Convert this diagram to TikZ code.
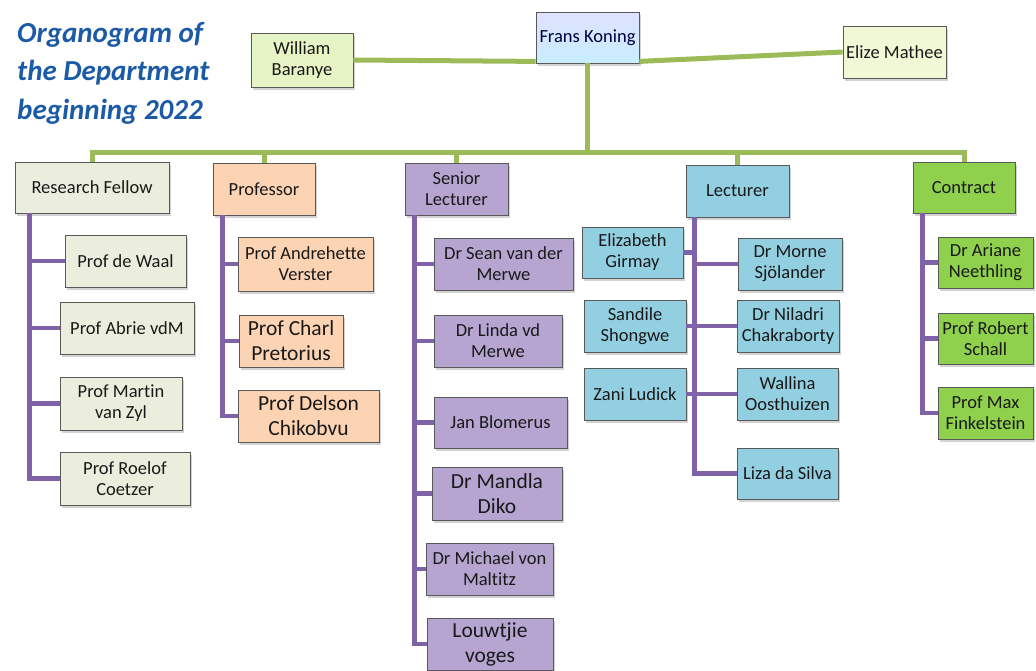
\documentclass[tikz,border=0pt]{standalone}
\usepackage{fontspec}
\setmainfont[Ligatures={NoCommon}]{Carlito}
\usepackage{tikz}
\usetikzlibrary{shadows}
\usepackage{xcolor}
\definecolor{titleblue}{HTML}{1A5AA6}
\definecolor{linegreen}{HTML}{9BBB59}
\definecolor{linepurple}{HTML}{7F62A8}
\definecolor{rfcol}{HTML}{EBEEDD}
\definecolor{prcol}{HTML}{FCD3B3}
\definecolor{slcol}{HTML}{B5A5D0}
\definecolor{lccol}{HTML}{92CFE0}
\definecolor{ctcol}{HTML}{8FD04C}
\definecolor{wbcol}{HTML}{E6F3C4}
\definecolor{emcol}{HTML}{F1F8D6}

\begin{document}
\begin{tikzpicture}[x=1pt,y=-1pt]
            \tikzset{
            org node/.style={rectangle,draw=black!65,line width=0.8pt,inner sep=2pt,
              align=center,text=black!90,font=\fontsize{18.5}{21}\selectfont,
              minimum height=52pt,
              drop shadow={shadow xshift=1.5pt,shadow yshift=-2.5pt,opacity=.35}},
            org big/.style={font=\fontsize{21.5}{25}\selectfont},
            org green/.style={draw=linegreen,line width=5pt},
            org purple/.style={draw=linepurple,line width=4.5pt}
            }
            \useasboundingbox (0,0) rectangle (1036,670);
            \node[anchor=north west,align=left,text=titleblue,inner sep=0,
              font=\fontsize{29}{38.5}\selectfont\bfseries\itshape] (title) at (17,22)
              {Organogram of\\the Department\\beginning 2022};

            \node[org node, fill=wbcol, minimum width=102pt, minimum height=54pt] (WB) at (302,60) {William\\Baranye};
            \node[org node, top color=blue!12, bottom color=blue!30!cyan!22, minimum width=103pt, minimum height=51pt, text=blue!25!black] (FK) at (587.5,37.5) {Frans Koning};
            \node[org node, fill=emcol, minimum width=103pt] (EM) at (894.5,52) {Elize Mathee};

            \node[org node, fill=rfcol, minimum width=154pt, minimum height=51pt] (RF) at (92,187.5) {Research Fellow};
            \node[org node, fill=prcol, minimum width=102pt] (PR) at (264,189) {Professor};
            \node[org node, fill=slcol, minimum width=103pt] (SL) at (456.5,189) {Senior\\Lecturer};
            \node[org node, fill=lccol, minimum width=103pt] (LC) at (737.5,191) {Lecturer};
            \node[org node, fill=ctcol, minimum width=102pt, minimum height=51pt] (CT) at (964,187.5) {Contract};

            \node[org node, fill=rfcol, minimum width=121pt] (R1) at (125.5,261) {Prof de Waal};
            \node[org node, fill=rfcol, minimum width=134pt] (R2) at (127,328) {Prof Abrie vdM};
            \node[org node, fill=rfcol, minimum width=122pt, minimum height=53pt] (R3) at (121,403.5) {Prof Martin\\van Zyl};
            \node[org node, fill=rfcol, minimum width=130pt, minimum height=53pt] (R4) at (125,478.5) {Prof Roelof\\Coetzer};

            \node[org node, fill=prcol, minimum width=135pt, minimum height=54pt] (P1) at (305.5,264) {Prof Andrehette\\Verster};
            \node[org node, org big, fill=prcol, minimum width=104pt] (P2) at (291,341) {Prof Charl\\Pretorius};
            \node[org node, org big, fill=prcol, minimum width=141pt] (P3) at (308.5,416) {Prof Delson\\Chikobvu};

            \node[org node, fill=slcol, minimum width=139pt] (S1) at (503.5,264) {Dr Sean van der\\Merwe};
            \node[org node, fill=slcol, minimum width=128pt] (S2) at (498,341) {Dr Linda vd\\Merwe};
            \node[org node, fill=slcol, minimum width=133pt, minimum height=51pt] (S3) at (500.5,422.5) {Jan Blomerus};
            \node[org node, org big, fill=slcol, minimum width=130pt, minimum height=53pt] (S4) at (497,493.5) {Dr Mandla\\Diko};
            \node[org node, fill=slcol, minimum width=127pt] (S5) at (489.5,569) {Dr Michael von\\Maltitz};
            \node[org node, org big, fill=slcol, minimum width=126pt] (S6) at (490,644) {Louwtjie\\voges};

            \node[org node, fill=lccol, minimum width=101pt, minimum height=51pt] (L1) at (632.5,252.5) {Elizabeth\\Girmay};
            \node[org node, fill=lccol, minimum width=102pt] (L2) at (635,326) {Sandile\\Shongwe};
            \node[org node, fill=lccol, minimum width=102pt] (L3) at (635,394) {Zani Ludick};
            \node[org node, fill=lccol, minimum width=104pt] (L4) at (790,264) {Dr Morne\\Sjölander};
            \node[org node, fill=lccol, minimum width=102pt] (L5) at (788,326) {Dr Niladri\\Chakraborty};
            \node[org node, fill=lccol, minimum width=101pt] (L6) at (787.5,394) {Wallina\\Oosthuizen};
            \node[org node, fill=lccol, minimum width=101pt, minimum height=51pt] (L7) at (787.5,473.5) {Liza da Silva};

            \node[org node, fill=ctcol, minimum width=95pt, minimum height=51pt] (C1) at (985.5,262.5) {Dr Ariane\\Neethling};
            \node[org node, fill=ctcol, minimum width=95pt, minimum height=51pt] (C2) at (985.5,338.5) {Prof Robert\\Schall};
            \node[org node, fill=ctcol, minimum width=95pt] (C3) at (985.5,413) {Prof Max\\Finkelstein};

            \coordinate (bus) at (FK.south |- 0,152);
            \coordinate (rfs) at ([xshift=15pt]RF.south west);
            \coordinate (prs) at ([xshift=10pt]PR.south west);
            \coordinate (sls) at ([xshift=10pt]SL.south west);
            \coordinate (lcs) at ([xshift=9pt]LC.south west);
            \coordinate (cts) at ([xshift=10pt]CT.south west);

            \path[org green]
            (WB.east) edge ([yshift=2pt]FK.south west)
            ([yshift=2pt]FK.south east) edge (EM.west)
            (FK.south) edge (bus)
            (PR.north) edge (PR.north |- bus)
            (SL.north) edge (SL.north |- bus)
            (LC.north) edge (LC.north |- bus)
            ;
            \draw[org green] (RF.north) |- (bus) -| (CT.north);

            \draw[org purple] (rfs) |- (R4.west);
            \draw[org purple] (prs) |- (P3.west);
            \draw[org purple] (sls) |- (S6.west);
            \draw[org purple] (lcs) |- (L7.west);
            \draw[org purple] (cts) |- (C3.west);
            \path[org purple]
            (R1.west) edge (R1.west -| rfs)
            (R2.west) edge (R2.west -| rfs)
            (R3.west) edge (R3.west -| rfs)
            (P1.west) edge (P1.west -| prs)
            (P2.west) edge (P2.west -| prs)
            (S1.west) edge (S1.west -| sls)
            (S2.west) edge (S2.west -| sls)
            (S3.west) edge (S3.west -| sls)
            (S4.west) edge (S4.west -| sls)
            (S5.west) edge (S5.west -| sls)
            (L1.east) edge (L1.east -| lcs)
            (L4.west) edge (L4.west -| lcs)
            (L2.east) edge (L5.west)
            (L3.east) edge (L6.west)
            (C1.west) edge (C1.west -| cts)
            (C2.west) edge (C2.west -| cts)
            ;
        \end{tikzpicture}
\end{document}
